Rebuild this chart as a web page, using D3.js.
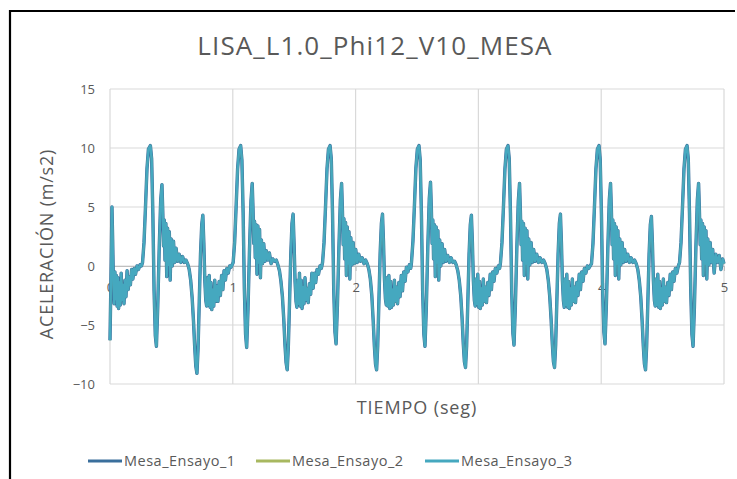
<!DOCTYPE html>
<html>
<head>
<meta charset="utf-8">
<script src="https://cdn.jsdelivr.net/npm/d3@7"></script>
<style>
  html, body { margin: 0; padding: 0; background: #fff; }
  svg { display: block; }
  text { font-family: "Open Sans", Lato, sans-serif; fill: #595959; }
</style>
</head>
<body>
<svg id="chart" width="737" height="479"></svg>
<script>
// ---------------- DATA ----------------
const chartTitle = "LISA_L1.0_Phi12_V10_MESA";
const xTitle = "TIEMPO (seg)";
const yTitle = "ACELERACIÓN (m/s2)";
const seriesNames = ["Mesa_Ensayo_1", "Mesa_Ensayo_2", "Mesa_Ensayo_3"];
const xTicks = [0, 1, 2, 3, 4, 5];
const yTicks = [-10, -5, 0, 5, 10, 15];

// time samples (s)
const tiempo = [
  0.000, 0.008, 0.016, 0.022, 0.028, 0.034, 0.040, 0.046, 0.052, 0.058,
  0.064, 0.070, 0.077, 0.084, 0.091, 0.098, 0.106, 0.114, 0.122, 0.130,
  0.139, 0.148, 0.157, 0.166, 0.176, 0.186, 0.197, 0.208, 0.220, 0.232,
  0.245, 0.256, 0.265, 0.277, 0.289, 0.301, 0.313,
  // cycle 1
  0.329, 0.339, 0.349, 0.359, 0.369, 0.378, 0.389, 0.401, 0.413, 0.423,
  0.430, 0.436, 0.442, 0.448, 0.455, 0.462, 0.469, 0.476, 0.483, 0.490,
  0.498, 0.507, 0.517, 0.527, 0.538, 0.550, 0.563, 0.577, 0.591, 0.605,
  0.619, 0.632, 0.645, 0.657, 0.669, 0.680, 0.690, 0.699, 0.708, 0.717,
  0.727, 0.737, 0.747, 0.756, 0.764, 0.772, 0.780, 0.787, 0.794, 0.801,
  0.808, 0.815, 0.822, 0.829, 0.837, 0.845, 0.853, 0.861, 0.870, 0.879,
  0.889, 0.899, 0.909, 0.919, 0.929, 0.940, 0.951, 0.963, 0.975, 0.986,
  1.003, 1.015, 1.027, 1.039, 1.051,
  // cycle 2
  1.064, 1.074, 1.084, 1.094, 1.104, 1.113, 1.124, 1.136, 1.148, 1.158,
  1.165, 1.171, 1.177, 1.183, 1.190, 1.197, 1.204, 1.211, 1.218, 1.225,
  1.233, 1.242, 1.252, 1.262, 1.273, 1.285, 1.298, 1.312, 1.326, 1.340,
  1.354, 1.367, 1.380, 1.392, 1.404, 1.415, 1.425, 1.434, 1.443, 1.452,
  1.462, 1.472, 1.482, 1.491, 1.499, 1.507, 1.515, 1.522, 1.529, 1.536,
  1.543, 1.550, 1.557, 1.564, 1.572, 1.580, 1.588, 1.596, 1.605, 1.614,
  1.624, 1.634, 1.644, 1.654, 1.664, 1.675, 1.686, 1.698, 1.710, 1.721,
  1.731, 1.743, 1.755, 1.767, 1.779,
  // cycle 3
  1.792, 1.802, 1.812, 1.822, 1.832, 1.841, 1.852, 1.864, 1.876, 1.886,
  1.893, 1.899, 1.905, 1.911, 1.918, 1.925, 1.932, 1.939, 1.946, 1.953,
  1.961, 1.970, 1.980, 1.990, 2.001, 2.013, 2.026, 2.040, 2.054, 2.068,
  2.082, 2.095, 2.108, 2.120, 2.132, 2.143, 2.153, 2.162, 2.171, 2.180,
  2.190, 2.200, 2.210, 2.219, 2.227, 2.235, 2.243, 2.250, 2.257, 2.264,
  2.271, 2.278, 2.285, 2.292, 2.300, 2.308, 2.316, 2.324, 2.333, 2.342,
  2.352, 2.362, 2.372, 2.382, 2.392, 2.403, 2.414, 2.426, 2.438, 2.449,
  2.455, 2.467, 2.479, 2.491, 2.503,
  // cycle 4
  2.516, 2.526, 2.536, 2.546, 2.556, 2.565, 2.576, 2.588, 2.600, 2.610,
  2.617, 2.623, 2.629, 2.635, 2.642, 2.649, 2.656, 2.663, 2.670, 2.677,
  2.685, 2.694, 2.704, 2.714, 2.725, 2.737, 2.750, 2.764, 2.778, 2.792,
  2.806, 2.819, 2.832, 2.844, 2.856, 2.867, 2.877, 2.886, 2.895, 2.904,
  2.914, 2.924, 2.934, 2.943, 2.951, 2.959, 2.967, 2.974, 2.981, 2.988,
  2.995, 3.002, 3.009, 3.016, 3.024, 3.032, 3.040, 3.048, 3.057, 3.066,
  3.076, 3.086, 3.096, 3.106, 3.116, 3.127, 3.138, 3.150, 3.162, 3.173,
  3.180, 3.192, 3.204, 3.216, 3.228,
  // cycle 5
  3.241, 3.251, 3.261, 3.271, 3.281, 3.290, 3.301, 3.313, 3.325, 3.335,
  3.342, 3.348, 3.354, 3.360, 3.367, 3.374, 3.381, 3.388, 3.395, 3.402,
  3.410, 3.419, 3.429, 3.439, 3.450, 3.462, 3.475, 3.489, 3.503, 3.517,
  3.531, 3.544, 3.557, 3.569, 3.581, 3.592, 3.602, 3.611, 3.620, 3.629,
  3.639, 3.649, 3.659, 3.668, 3.676, 3.684, 3.692, 3.699, 3.706, 3.713,
  3.720, 3.727, 3.734, 3.741, 3.749, 3.757, 3.765, 3.773, 3.782, 3.791,
  3.801, 3.811, 3.821, 3.831, 3.841, 3.852, 3.863, 3.875, 3.887, 3.898,
  3.921, 3.933, 3.945, 3.957, 3.969,
  // cycle 6
  3.982, 3.992, 4.002, 4.012, 4.022, 4.031, 4.042, 4.054, 4.066, 4.076,
  4.083, 4.089, 4.095, 4.101, 4.108, 4.115, 4.122, 4.129, 4.136, 4.143,
  4.151, 4.160, 4.170, 4.180, 4.191, 4.203, 4.216, 4.230, 4.244, 4.258,
  4.272, 4.285, 4.298, 4.310, 4.322, 4.333, 4.343, 4.352, 4.361, 4.370,
  4.380, 4.390, 4.400, 4.409, 4.417, 4.425, 4.433, 4.440, 4.447, 4.454,
  4.461, 4.468, 4.475, 4.482, 4.490, 4.498, 4.506, 4.514, 4.523, 4.532,
  4.542, 4.552, 4.562, 4.572, 4.582, 4.593, 4.604, 4.616, 4.628,
  4.638, 4.650, 4.662, 4.674, 4.686,
  // cycle 7
  4.699, 4.709, 4.719, 4.729, 4.739, 4.748, 4.759, 4.771, 4.783, 4.793,
  4.800, 4.806, 4.812, 4.818, 4.825, 4.832, 4.839, 4.846, 4.853, 4.860,
  4.868, 4.877, 4.887, 4.897, 4.908, 4.920, 4.933, 4.947, 4.961, 4.975,
  4.989, 5.000
];

// acceleration (m/s2) of Mesa_Ensayo_3 (the three runs coincide in the picture)
const ensayo3 = [
  -6.3, -1.0, 5.0, 2.0, -1.5, -3.2, -0.5, -2.8, -0.8, -3.4,
  -1.0, -3.6, -1.4, -3.3, -0.6, -2.9, -1.6, -3.2, -1.2, -2.6,
  -0.4, -2.0, -0.9, -1.6, -0.3, -1.1, -0.2, -0.7, 0.0, -0.3,
  0.1, 0.0, 0.3, 2.0, 5.0, 8.2, 9.9,
  // cycle 1
  10.2, 9.1, 4.4, -2.1, -5.9, -6.8, -3.4, 1.6, 5.6, 6.9,
  4.5, 1.7, 3.9, 0.5, 3.6, -0.9, 3.2, 0.1, 2.9, -1.2,
  2.3, 0.0, 2.1, 0.3, 1.5, 0.4, 1.0, 0.3, 0.8, 0.3,
  0.5, 0.2, -0.3, -1.2, -2.7, -4.7, -6.9, -8.5, -9.1, -7.0,
  -3.0, 1.0, 3.5, 4.3, 2.0, -1.2, -2.9, -3.4, -1.0, -3.3,
  -0.8, -3.5, -1.4, -3.7, -2.0, -3.4, -1.2, -3.0, -1.7, -3.0,
  -1.3, -2.5, -0.8, -2.0, -0.4, -1.2, -0.2, -0.6, 0.0, -0.1,
  0.3, 2.0, 5.0, 8.2, 9.9,
  // cycle 2
  10.2, 9.0, 4.6, -1.9, -5.8, -6.9, -3.6, 1.4, 5.5, 7.0,
  4.7, 1.9, 3.8, 0.7, 3.5, -0.7, 3.4, 0.3, 3.1, -1.0,
  2.2, 0.2, 1.9, 0.4, 1.3, 0.5, 1.1, 0.2, 0.6, 0.4,
  0.5, 0.1, -0.4, -1.3, -2.6, -4.5, -6.7, -8.2, -8.8, -6.9,
  -3.1, 0.9, 3.6, 4.4, 1.9, -1.3, -3.0, -3.5, -1.2, -3.2,
  -0.6, -3.4, -1.2, -3.6, -1.8, -3.2, -1.0, -2.9, -1.9, -3.1,
  -1.5, -2.4, -0.6, -1.9, -0.6, -1.4, -0.3, -0.7, 0.0, -0.2,
  0.3, 2.0, 5.0, 8.2, 9.9,
  // cycle 3
  10.2, 9.1, 4.5, -2.0, -5.6, -6.6, -3.3, 1.5, 5.6, 7.0,
  4.6, 1.8, 4.0, 0.6, 3.7, -0.8, 3.3, 0.2, 2.9, -1.1,
  2.4, 0.1, 2.0, 0.2, 1.4, 0.3, 1.0, 0.4, 0.7, 0.2,
  0.5, 0.2, -0.3, -1.1, -2.5, -4.6, -6.8, -8.3, -8.8, -6.8,
  -2.9, 1.1, 3.6, 4.4, 2.1, -1.1, -2.8, -3.3, -1.0, -3.4,
  -0.8, -3.6, -1.3, -3.5, -2.0, -3.3, -1.2, -3.0, -1.8, -3.2,
  -1.4, -2.6, -0.8, -2.1, -0.5, -1.3, -0.1, -0.5, 0.1, -0.2,
  0.3, 2.1, 5.1, 8.3, 9.9,
  // cycle 4
  10.2, 9.0, 4.4, -2.1, -5.8, -6.8, -3.5, 1.6, 5.7, 7.1,
  4.8, 1.9, 3.9, 0.6, 3.5, -0.9, 3.3, 0.3, 3.0, -1.2,
  2.2, 0.0, 1.9, 0.3, 1.4, 0.4, 0.9, 0.3, 0.7, 0.3,
  0.4, 0.1, -0.4, -1.2, -2.5, -4.4, -6.6, -8.1, -8.6, -6.8,
  -3.0, 1.0, 3.5, 4.3, 2.0, -1.2, -2.9, -3.4, -1.1, -3.2,
  -0.7, -3.5, -1.3, -3.6, -1.9, -3.3, -1.1, -3.0, -1.8, -3.1,
  -1.4, -2.5, -0.7, -2.0, -0.5, -1.3, -0.2, -0.6, 0.0, -0.2,
  0.3, 2.0, 5.0, 8.2, 9.9,
  // cycle 5
  10.2, 9.1, 4.5, -2.0, -5.7, -6.7, -3.4, 1.5, 5.5, 7.0,
  4.6, 1.8, 3.8, 0.5, 3.6, -0.8, 3.2, 0.2, 3.0, -1.1,
  2.3, 0.1, 2.0, 0.3, 1.4, 0.4, 1.0, 0.3, 0.7, 0.3,
  0.5, 0.2, -0.3, -1.2, -2.6, -4.5, -6.6, -8.1, -8.6, -6.7,
  -2.9, 1.0, 3.6, 4.4, 2.0, -1.2, -2.9, -3.5, -1.1, -3.3,
  -0.7, -3.5, -1.3, -3.6, -1.9, -3.3, -1.1, -3.0, -1.8, -3.1,
  -1.4, -2.5, -0.7, -2.0, -0.5, -1.3, -0.2, -0.6, 0.0, -0.2,
  0.2, 1.9, 5.0, 8.2, 9.9,
  // cycle 6
  10.2, 9.0, 4.4, -2.1, -5.6, -6.6, -3.3, 1.5, 5.6, 7.0,
  4.7, 1.8, 3.9, 0.6, 3.6, -0.8, 3.3, 0.2, 3.0, -1.1,
  2.3, 0.1, 2.0, 0.3, 1.4, 0.4, 1.0, 0.3, 0.7, 0.3,
  0.5, 0.2, -0.3, -1.2, -2.6, -4.6, -6.8, -8.3, -8.8, -6.8,
  -3.0, 1.0, 3.5, 4.2, 1.9, -1.2, -2.9, -3.4, -1.1, -3.3,
  -0.7, -3.5, -1.3, -3.6, -1.9, -3.3, -1.1, -3.0, -1.8, -3.1,
  -1.4, -2.5, -0.7, -2.0, -0.5, -1.3, -0.2, -0.6, 0.0,
  0.3, 2.0, 5.0, 8.2, 9.9,
  // cycle 7
  10.2, 9.1, 4.5, -2.0, -5.8, -6.8, -3.5, 1.5, 5.6, 7.0,
  4.6, 1.8, 3.9, 0.6, 3.6, -0.8, 3.3, 0.2, 3.0, -1.1,
  2.3, 0.1, 2.0, 0.3, 1.4, -0.6, 1.0, 0.3, 0.9, -0.3,
  0.6, 0.2
];
// Runs 1 and 2 are hidden under run 3 in the picture (identical traces)
const ensayo1 = ensayo3;
const ensayo2 = ensayo3;
const seriesColors = ["#3a6f9c", "#a8b860", "#45a8bf"];

// ---------------- CHART ----------------
const svg = d3.select("#chart");
const W = 737, H = 479;
svg.append("rect").attr("width", W).attr("height", H).attr("fill", "#fff");

// outer black frame (left + top edges visible)
svg.append("path")
  .attr("d", "M10,479V11H735")
  .attr("fill", "none").attr("stroke", "#000").attr("stroke-width", 2.2);

const x = d3.scaleLinear().domain([0, 5]).range([110, 724]);
const y = d3.scaleLinear().domain([-10, 15]).range([384, 89]);

// gridlines
const grid = svg.append("g");
grid.selectAll(".hg").data(yTicks).join("line")
  .attr("x1", x(0)).attr("x2", x(5))
  .attr("y1", d => y(d)).attr("y2", d => y(d))
  .attr("stroke", "#d9d9d9").attr("stroke-width", 1.2);
grid.selectAll(".vg").data(xTicks).join("line")
  .attr("y1", y(15)).attr("y2", y(-10))
  .attr("x1", d => x(d)).attr("x2", d => x(d))
  .attr("stroke", "#d9d9d9").attr("stroke-width", 1.2);

// y axis labels
const yAxis = svg.append("g").attr("transform", `translate(${x(0)},0)`)
  .call(d3.axisLeft(y).tickValues(yTicks).tickSize(0).tickPadding(15).tickFormat(d3.format("d")));
yAxis.select(".domain").remove();
yAxis.selectAll("text").style("font-size", "13px").style("font-family", "'Open Sans', sans-serif").attr("fill", "#595959");

// x axis at zero crossing
const xAxis = svg.append("g").attr("transform", `translate(0,${y(0)})`)
  .call(d3.axisBottom(x).tickValues(xTicks).tickSize(5).tickPadding(12).tickFormat(d3.format("d")));
xAxis.select(".domain").attr("stroke", "#bfbfbf");
xAxis.selectAll(".tick line").attr("stroke", "#bfbfbf");
xAxis.selectAll("text").style("font-size", "13px").style("font-family", "'Open Sans', sans-serif").attr("fill", "#595959");

// lines
const line = d3.line().x(d => x(d[0])).y(d => y(d[1]));
const allSeries = [ensayo1, ensayo2, ensayo3];
const widths = [3.4, 1.6, 2.4];
allSeries.forEach((vals, i) => {
  const pts = d3.range(Math.min(tiempo.length, vals.length)).map(k => [tiempo[k], vals[k]]);
  svg.append("path").datum(pts)
    .attr("d", line)
    .attr("fill", "none")
    .attr("stroke", seriesColors[i])
    .attr("stroke-width", widths[i])
    .attr("stroke-linejoin", "round");
});

// titles
svg.append("text").attr("x", 375).attr("y", 55).attr("text-anchor", "middle")
  .style("font-size", "26px").style("letter-spacing", "1.1px").text(chartTitle);
svg.append("text").attr("x", 417).attr("y", 414).attr("text-anchor", "middle")
  .style("font-size", "18px").style("letter-spacing", "0.9px").text(xTitle);
svg.append("text").attr("transform", "translate(53,244) rotate(-90)").attr("text-anchor", "middle")
  .style("font-size", "18px").style("letter-spacing", "0.8px").text(yTitle);

// legend
const legendX = [88, 256, 425];
const lg = svg.append("g");
seriesNames.forEach((name, i) => {
  lg.append("line").attr("x1", legendX[i]).attr("x2", legendX[i] + 34)
    .attr("y1", 461).attr("y2", 461)
    .attr("stroke", seriesColors[i]).attr("stroke-width", 3);
  lg.append("text").attr("x", legendX[i] + 36).attr("y", 466)
    .style("font-size", "14.5px").style("letter-spacing", "0.5px").text(name);
});
</script>
</body>
</html>
